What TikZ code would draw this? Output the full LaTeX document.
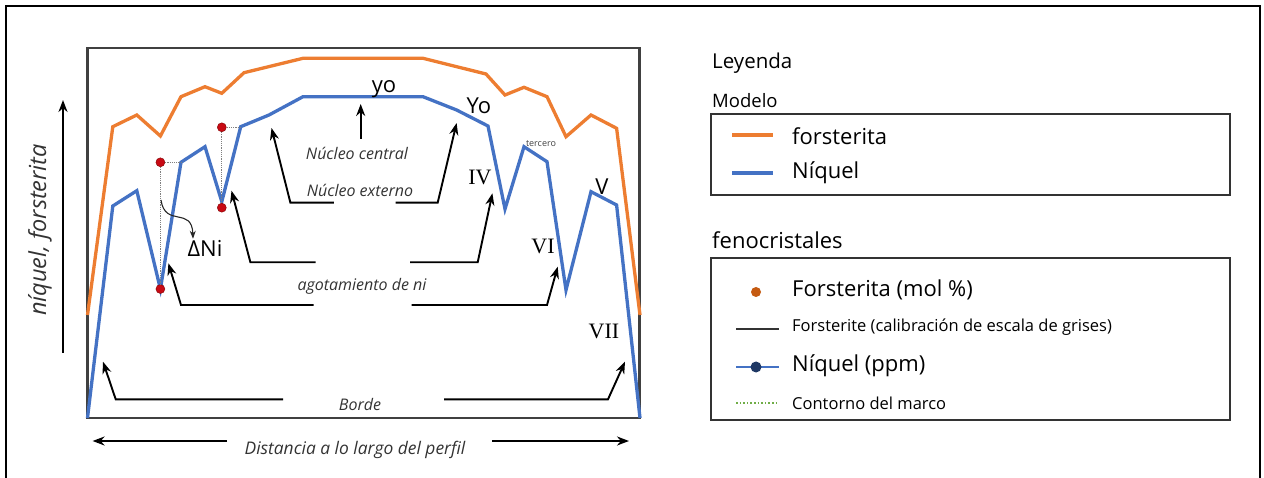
\documentclass[tikz,border=0pt]{standalone}
\usepackage{fontspec}
\setmainfont{Open Sans}
\newfontfamily\romfont{Liberation Serif}
\usetikzlibrary{arrows.meta,positioning}

\definecolor{forsOrange}{RGB}{237,125,49}
\definecolor{niBlue}{RGB}{68,114,196}
\definecolor{dotRed}{RGB}{200,10,20}
\definecolor{dotBrown}{RGB}{197,90,17}
\definecolor{dotNavy}{RGB}{31,56,100}
\definecolor{frameGreen}{RGB}{112,173,71}

\begin{document}
\begin{tikzpicture}[x=1pt,y=-1pt,
    arr/.style={-{Stealth[length=12pt,width=9pt]},line width=1.9pt,black},
    fors/.style={forsOrange,line width=3.3pt,line join=miter},
    niq/.style={niBlue,line width=3.3pt,line join=miter},
    guide/.style={gray,densely dotted,line width=1.2pt},
    reddot/.style={circle,fill=dotRed,draw=red!50!black,inner sep=0pt,minimum size=9pt},
    lbl/.style={font=\fontsize{16}{18}\selectfont\itshape,text=black!80,inner sep=1pt},
    big/.style={font=\fontsize{22}{25}\selectfont,inner sep=1pt},
    rom/.style={font=\fontsize{22}{25}\romfont,inner sep=1pt},
    leg/.style={font=\fontsize{22}{25}\selectfont,anchor=west,inner sep=0pt},
    legsmall/.style={leg,font=\fontsize{16.5}{19}\selectfont}]

    \useasboundingbox (0,0) rectangle (1264,478);
    % outer frame, open at the bottom
    \draw[line width=2.6pt] (6,478) -- (6,6) -- (1260,6) -- (1260,478);

    % plot frame
    \draw[black!75,line width=2.2pt] (87.5,48) rectangle (639.5,418);

    % forsterite model
    \draw[fors] (87.5,315) -- (112.8,126.7) -- (136.8,115) -- (160.4,136)
        -- (181,96.7) -- (205,86.7) -- (221.8,93.3) -- (244,72.7) -- (303,58.3)
        -- (423,58.3) -- (486,74) -- (505,95) -- (524,87.3) -- (547,96.7)
        -- (566,136.7) -- (591,115) -- (616.6,128.3) -- (640,315);

    % nickel model
    \draw[niq] (87.5,418) -- (112.8,206) -- (136.8,190.7) -- (160.4,289)
        -- (181,162.3) -- (205,146.7) -- (221.8,201.7) -- (240.7,126.7)
        -- (269,115) -- (303,96.7) -- (423,96.7) -- (456.6,110) -- (488,126)
        -- (505,209) -- (524,146.7) -- (547,161.7) -- (566,290) -- (591,191.7)
        -- (616.6,205) -- (640,418);

    % depletion markers
    \node[reddot] (d1t) at (160.4,162.3) {};
    \node[reddot] (d1b) at (160.4,289) {};
    \node[reddot] (d2t) at (221.8,127.3) {};
    \node[reddot] (d2b) at (221.8,207.7) {};
    \draw[guide] (d1t) -- (181,162.3);
    \draw[guide] (d1t) -- (d1b);
    \draw[guide] (d2t) -- (240.7,127.3);
    \draw[guide] (d2t) -- (d2b);

    \node[big] (dni) at (205,248) {ΔNi};
    \coordinate (dniTail) at (161,200);
    \draw[-{Stealth[length=8pt,width=6pt]},line width=1.1pt,black!85] (dniTail)
        .. controls (165,228) and (192,206) .. (dni.north-|193,0);

    % labels in the plot
    \node[big] (yo) at (384,89) {yo};
    \node[big] (Yo) at (479,106) {Yo};
    \node[rom] (IV) at (480,177) {IV};
    \node[rom] (VI) at (543,246) {VI};
    \node[rom] (VII) at (604,331) {VII};
    \node[big] (V) at (602,187) {V};
    \node[font=\fontsize{9}{10}\selectfont,text=black!75] (terc) at (541,144) {tercero};

    \node[lbl] (nc) at (357,153) {Núcleo central};
    \node[lbl] (ne) at (360,190) {Núcleo externo};
    \node[lbl] (ag) at (362,286) {agotamiento de ni};
    \node[lbl] (bo) at (360,404) {Borde};
    \node[lbl,font=\fontsize{17.4}{20}\selectfont\itshape] (dist) at (355,450)
        {Distancia a lo largo del perfil};
    \node[lbl,font=\fontsize{23.5}{26}\selectfont\itshape,rotate=90] (yax) at (40,230)
        {níquel, forsterita};

    % arrows
    \coordinate (ncTail) at (360.7,139);
    \coordinate (ncTip) at (360.7,104);
    \draw[arr] (ncTail) -- (ncTip);

    \coordinate (neL) at (333.8,202.7);
    \coordinate (neLTip) at (271.5,128);
    \coordinate (neR) at (395.6,202.7);
    \coordinate (neRTip) at (456.6,123);
    \draw[arr] (neL) -- (290.4,202.7) -- (neLTip);
    \draw[arr] (neR) -- (437.7,202.7) -- (neRTip);

    \coordinate (agUL) at (315.7,262.3);
    \coordinate (agULTip) at (231.5,190.7);
    \coordinate (agUR) at (410,262.3);
    \coordinate (agURTip) at (492.4,193.3);
    \draw[arr] (agUL) -- (250.4,262.3) -- (agULTip);
    \draw[arr] (agUR) -- (477.7,262.3) -- (agURTip);

    \coordinate (agLL) at (313.6,305);
    \coordinate (agLLTip) at (168.4,263.3);
    \coordinate (agLR) at (411.6,305);
    \coordinate (agLRTip) at (557.7,266.7);
    \draw[arr] (agLL) -- (181,305) -- (agLLTip);
    \draw[arr] (agLR) -- (547,305) -- (agLRTip);

    \coordinate (boL) at (283,399.3);
    \coordinate (boLTip) at (103,361.7);
    \coordinate (boR) at (444,399.3);
    \coordinate (boRTip) at (625,361.7);
    \draw[arr] (boL) -- (115.7,399.3) -- (boLTip);
    \draw[arr] (boR) -- (608,399.3) -- (boRTip);

    \coordinate (diL) at (227,441);
    \coordinate (diLTip) at (92.6,441);
    \coordinate (diR) at (492,441);
    \coordinate (diRTip) at (629,441);
    \draw[arr] (diL) -- (diLTip);
    \draw[arr] (diR) -- (diRTip);

    \coordinate (yaxTail) at (63,353);
    \coordinate (yaxTip) at (63,100);
    \draw[arr] (yaxTail) -- (yaxTip);

    % legend
    \node[leg,font=\fontsize{20.5}{24}\selectfont] (leyenda) at (712,63) {Leyenda};
    \node[leg,font=\fontsize{18.5}{22}\selectfont] (modelo) at (712,101) {Modelo};
    \draw[black!80,line width=1.6pt] (711,114) rectangle (1230,195);
    \node[leg] (lgFors) at (792,136) {forsterita};
    \node[leg] (lgNi) at (792,173) {Níquel};
    \draw[fors] (732,135) -- (773,135);
    \draw[niq] (732,173) -- (773,173);

    \node[leg] (feno) at (712,240) {fenocristales};
    \draw[black!80,line width=1.6pt] (711,258) rectangle (1230,420);
    \node[leg] (lgFo) at (792,290) {Forsterita (mol \%)};
    \node[legsmall] (lgGray) at (792,327) {Forsterite (calibración de escala de grises)};
    \node[leg] (lgNp) at (792,366) {Níquel (ppm)};
    \node[legsmall] (lgFr) at (792,403) {Contorno del marco};
    \fill[dotBrown] (756,292) circle (5pt);
    \draw[black!80,line width=1.2pt] (736,329) -- (779,329);
    \draw[niq,line width=2.4pt] (736,367) -- (779,367);
    \fill[dotNavy] (756,367) circle (5.5pt);
    \draw[frameGreen,line width=1.6pt,dotted] (736,403) -- (779,403);
\end{tikzpicture}
\end{document}
